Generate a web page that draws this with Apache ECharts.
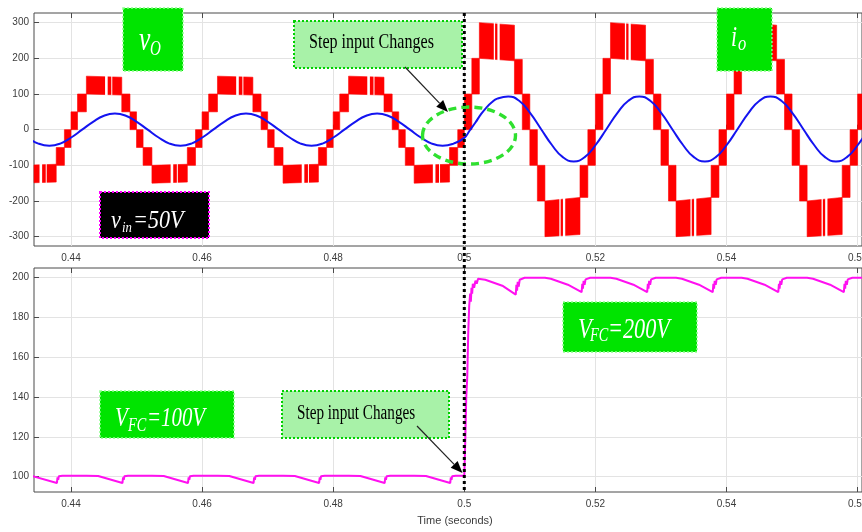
<!DOCTYPE html>
<html><head><meta charset="utf-8">
<script src="https://cdn.jsdelivr.net/npm/echarts@6/dist/echarts.min.js"></script>
<style>html,body{margin:0;padding:0;background:#fff;overflow:hidden}#c{width:862px;height:532px}</style>
</head><body><div id="c"></div>
<script>
// ---------- tick labels ----------
const xTicks = [0.44, 0.46, 0.48, 0.5, 0.52, 0.54, 0.56];
const voTicks = [-300, -200, -100, 0, 100, 200, 300];
const vfcTicks = [100, 120, 140, 160, 180, 200];
const xRange = [0.43436, 0.56067];
const voRange = [-326.2, 327.1];
const vfcRange = [92.3, 204.9];
const stepTime = 0.5;

// ---------- output voltage v_o : PWM bands between two adjacent levels ----------
const bandT0 = [0.43235,0.43775,0.439,
 0.44,0.441,0.44235,0.44775,0.449, 0.45,0.451,0.45235,0.45775,0.459,
 0.46,0.461,0.46235,0.46775,0.469, 0.47,0.471,0.47235,0.47775,0.479,
 0.48,0.481,0.48235,0.48775,0.489, 0.49,0.491,0.49235,0.49775,0.499,
 0.5,0.50115,0.5023,0.50765,0.50885, 0.51,0.51115,0.5123,0.51765,0.51885,
 0.52,0.52115,0.5223,0.52765,0.52885, 0.53,0.53115,0.5323,0.53765,0.53885,
 0.54,0.54115,0.5423,0.54765,0.54885, 0.55,0.55115,0.5523,0.55765,0.55885,
 0.56];
const bandT1 = [0.43775,0.439,0.44,
 0.441,0.44235,0.44775,0.449,0.45, 0.451,0.45235,0.45775,0.459,0.46,
 0.461,0.46235,0.46775,0.469,0.47, 0.471,0.47235,0.47775,0.479,0.48,
 0.481,0.48235,0.48775,0.489,0.49, 0.491,0.49235,0.49775,0.499,0.5,
 0.50115,0.5023,0.50765,0.50885,0.51, 0.51115,0.5123,0.51765,0.51885,0.52,
 0.52115,0.5223,0.52765,0.52885,0.53, 0.53115,0.5323,0.53765,0.53885,0.54,
 0.54115,0.5423,0.54765,0.54885,0.55, 0.55115,0.5523,0.55765,0.55885,0.56,
 0.56115];
const bandLo0 = [-150,-100,-50,
 0,50,100,50,0, -50,-100,-150,-100,-50,
 0,50,100,50,0, -50,-100,-150,-100,-50,
 0,50,100,50,0, -50,-100,-150,-100,-50,
 0,100,200,100,0, -100,-200,-300,-190,-100,
 0,100,200,100,0, -100,-200,-300,-190,-100,
 0,100,200,100,0, -100,-200,-300,-190,-100,
 0];
const bandHi0 = [-100,-50,0,
 50,100,150,100,50, 0,-50,-100,-50,0,
 50,100,150,100,50, 0,-50,-100,-50,0,
 50,100,150,100,50, 0,-50,-100,-50,0,
 100,200,300,197,100, 0,-100,-200,-100,0,
 100,200,300,197,100, 0,-100,-200,-100,0,
 100,200,300,197,100, 0,-100,-200,-100,0,
 100];
const bandLo1 = [-147,-100,-50,
 0,50,97,50,0, -50,-100,-147,-100,-50,
 0,50,97,50,0, -50,-100,-147,-100,-50,
 0,50,97,50,0, -50,-100,-147,-100,-50,
 0,100,193,100,0, -100,-200,-294,-190,-100,
 0,100,193,100,0, -100,-200,-294,-190,-100,
 0,100,193,100,0, -100,-200,-294,-190,-100,
 0];
const bandHi1 = [-97,-50,0,
 50,100,147,100,50, 0,-50,-97,-50,0,
 50,100,147,100,50, 0,-50,-97,-50,0,
 50,100,147,100,50, 0,-50,-97,-50,0,
 100,200,293,197,100, 0,-100,-190,-100,0,
 100,200,293,197,100, 0,-100,-190,-100,0,
 100,200,293,197,100, 0,-100,-190,-100,0,
 100];
// white PWM gaps visible inside the outer plateaus
const gapT0 = [0.4352,0.43615, 0.4452,0.44615, 0.4552,0.45615, 0.4652,0.46615, 0.4752,0.47615, 0.4852,0.48615, 0.4952,0.49615,
 0.5045,0.50505, 0.5145,0.51505, 0.5245,0.52505, 0.5345,0.53505, 0.5445,0.54505, 0.5545,0.55505];
const gapT1 = [0.4356,0.4363, 0.4456,0.4463, 0.4556,0.4563, 0.4656,0.4663, 0.4756,0.4763, 0.4856,0.4863, 0.4956,0.4963,
 0.5047,0.5054, 0.5147,0.5154, 0.5247,0.5254, 0.5347,0.5354, 0.5447,0.5454, 0.5547,0.5554];

// ---------- output current i_o ----------
const iT = [0.4317,0.43337,0.43503,0.4367,0.43837,0.44003,
 0.4417,0.44337,0.44503,0.4467,0.44837,0.45003,
 0.4517,0.45337,0.45503,0.4567,0.45837,0.46003,
 0.4617,0.46337,0.46503,0.4667,0.46837,0.47003,
 0.4717,0.47337,0.47503,0.4767,0.47837,0.48003,
 0.4817,0.48337,0.48503,0.4867,0.48837,0.49003,
 0.4917,0.49337,0.49503,0.4967,0.49837,0.5,
 0.5008,0.5017,0.5025,0.50337,0.5042,0.50503,0.5067,0.50837,0.51003,
 0.5117,0.51337,0.51503,0.5167,0.51837,0.52003,
 0.5217,0.52337,0.52503,0.5267,0.52837,0.53003,
 0.5317,0.53337,0.53503,0.5367,0.53837,0.54003,
 0.5417,0.54337,0.54503,0.5467,0.54837,0.55003,
 0.5517,0.55337,0.55503,0.5567,0.55837,0.56003,0.5617];
const iV = [0,-22,-39,-45,-39,-22,
 0,22,39,45,39,22,
 0,-22,-39,-45,-39,-22,
 0,22,39,45,39,22,
 0,-22,-39,-45,-39,-22,
 0,22,39,45,39,22,
 0,-22,-39,-45,-39,-23,
 -3,20,42,62,77,87,93,81,47,
 2,-43,-77,-89,-77,-43,
 2,47,81,93,81,47,
 2,-43,-77,-89,-77,-43,
 2,47,81,93,81,47,
 2,-43,-77,-89,-77,-43,2];

// ---------- flying capacitor voltage V_FC ----------
const fcT = [0.432,0.43415,0.43785,0.43795,0.43805,0.43815,0.4383,0.43845,0.4387,
 0.44235,0.44415,0.44785,0.44795,0.44805,0.44815,0.4483,0.44845,0.4487,
 0.45235,0.45415,0.45785,0.45795,0.45805,0.45815,0.4583,0.45845,0.4587,
 0.46235,0.46415,0.46785,0.46795,0.46805,0.46815,0.4683,0.46845,0.4687,
 0.47235,0.47415,0.47785,0.47795,0.47805,0.47815,0.4783,0.47845,0.4787,
 0.48235,0.48415,0.48785,0.48795,0.48805,0.48815,0.4883,0.48845,0.4887,
 0.49235,0.49415,0.49785,0.49795,0.49805,0.49815,0.4983,0.49845,0.4987,
 0.5,0.50015,0.5003,0.50045,0.5006,0.50075,0.5009,0.501,0.5011,0.5012,0.5013,0.5015,0.5017,0.5019,0.5021,
 0.5023,0.5032,0.5058,0.50785,0.50795,0.50805,0.50815,0.5083,0.50845,0.5087,0.5092,
 0.5123,0.5132,0.5158,0.5179,0.518,0.5181,0.5182,0.51835,0.5185,0.51875,0.5192,
 0.5223,0.5232,0.5258,0.5279,0.528,0.5281,0.5282,0.52835,0.5285,0.52875,0.5292,
 0.5323,0.5332,0.5358,0.5379,0.538,0.5381,0.5382,0.53835,0.5385,0.53875,0.5392,
 0.5423,0.5432,0.5458,0.5479,0.548,0.5481,0.5482,0.54835,0.5485,0.54875,0.5492,
 0.5523,0.5532,0.5558,0.5579,0.558,0.5581,0.5582,0.55835,0.5585,0.55875,0.5592,
 0.5615];
const fcV = [100.5,100.3,96.8,99.6,98.4,100.2,99.2,100.4,100.5,
 100.5,100.3,96.8,99.6,98.4,100.2,99.2,100.4,100.5,
 100.5,100.3,96.8,99.6,98.4,100.2,99.2,100.4,100.5,
 100.5,100.3,96.8,99.6,98.4,100.2,99.2,100.4,100.5,
 100.5,100.3,96.8,99.6,98.4,100.2,99.2,100.4,100.5,
 100.5,100.3,96.8,99.6,98.4,100.2,99.2,100.4,100.5,
 100.5,100.3,96.8,99.6,98.4,100.2,99.2,100.4,100.5,
 100.5,118,140,150,172,186,192,188,195,192,197,195,198.5,197,199.5,
 199.5,199,196,191.5,196.5,193.5,198,195.5,199,199.5,200,
 200,199.5,196.5,192.8,197,194.5,198.5,196.5,199.2,199.6,200,
 200,199.5,196.5,192.8,197,194.5,198.5,196.5,199.2,199.6,200,
 200,199.5,196.5,192.8,197,194.5,198.5,196.5,199.2,199.6,200,
 200,199.5,196.5,192.8,197,194.5,198.5,196.5,199.2,199.6,200,
 200,199.5,196.5,192.8,197,194.5,198.5,196.5,199.2,199.6,200,
 200];

// ---------- build ----------
const bandData = bandT0.map((t, i) => [t, bandT1[i], bandLo0[i], bandHi0[i], bandLo1[i], bandHi1[i]]);
const gapData = gapT0.map((t, i) => {
  const k = bandT0.findIndex((b, j) => t >= b && t < bandT1[j]);
  return [t, gapT1[i], Math.min(bandLo0[k], bandLo1[k]), Math.max(bandHi0[k], bandHi1[k])];
});
const iData = iT.map((t, i) => [t, iV[i]]);
const fcData = fcT.map((t, i) => [t, fcV[i]]);

function lerp(a, b, f) { return a + (b - a) * f; }
function renderBand(params, api) {
  const t0 = api.value(0), t1 = api.value(1);
  const c0 = Math.max(t0, xRange[0]), c1 = Math.min(t1, xRange[1]);
  if (c1 <= c0) return null;
  const f0 = (c0 - t0) / (t1 - t0), f1 = (c1 - t0) / (t1 - t0);
  const lo0 = api.value(2), hi0 = api.value(3), lo1 = api.value(4), hi1 = api.value(5);
  const pts = [
    api.coord([c0, lerp(lo0, lo1, f0)]),
    api.coord([c0, lerp(hi0, hi1, f0)]),
    api.coord([c1, lerp(hi0, hi1, f1)]),
    api.coord([c1, lerp(lo0, lo1, f1)])
  ];
  return { type: 'polygon', shape: { points: pts }, style: { fill: '#ff0000', stroke: '#ff0000', lineWidth: 0.6 } };
}
function renderGap(params, api) {
  const a = api.coord([api.value(0), api.value(3)]);
  const b = api.coord([api.value(1), api.value(2)]);
  return { type: 'rect', shape: { x: a[0], y: a[1] - 0.5, width: Math.max(b[0] - a[0], 0.8), height: b[1] - a[1] + 1 }, style: { fill: '#ffffff' } };
}

const axisFont = { fontFamily: 'Liberation Sans, Arial, sans-serif', fontSize: 10, color: '#3c3c3c' };
const frameColor = '#4a4a4a';
function xAx(grid, pos, labels) {
  return {
    type: 'value', gridIndex: grid, position: pos, min: xRange[0], max: xRange[1],
    axisLine: { show: false },
    axisTick: { show: true, inside: true, length: 5, customValues: xTicks, lineStyle: { color: frameColor } },
    axisLabel: Object.assign({ show: labels, customValues: xTicks, margin: 7 }, axisFont),
    splitLine: { show: labels, lineStyle: { color: '#e3e3e3', width: 1 } }
  };
}
function yAx(grid, range, ticks) {
  return {
    type: 'value', gridIndex: grid, min: range[0], max: range[1],
    axisLine: { show: false },
    axisTick: { show: true, inside: true, length: 5, customValues: ticks, lineStyle: { color: frameColor } },
    axisLabel: Object.assign({ customValues: ticks, margin: 5 }, axisFont),
    splitLine: { show: true, lineStyle: { color: '#e3e3e3', width: 1 } }
  };
}

const chart = echarts.init(document.getElementById('c'), null, { renderer: 'canvas' });
chart.setOption({
  animation: false,
  backgroundColor: '#ffffff',
  grid: [
    { left: 34, top: 13, width: 828, height: 233, show: true, borderColor: frameColor, borderWidth: 1, backgroundColor: 'transparent', containLabel: false, outerBoundsMode: 'none' },
    { left: 34, top: 268, width: 828, height: 224, show: true, borderColor: frameColor, borderWidth: 1, backgroundColor: 'transparent', containLabel: false, outerBoundsMode: 'none' }
  ],
  xAxis: [xAx(0, 'bottom', true), xAx(0, 'top', false), xAx(1, 'bottom', true), xAx(1, 'top', false)],
  yAxis: [yAx(0, voRange, voTicks), yAx(1, vfcRange, vfcTicks)],
  series: [
    { type: 'custom', name: 'vo', xAxisIndex: 0, yAxisIndex: 0, renderItem: renderBand, data: bandData,
      encode: { x: [0, 1], y: [2, 3, 4, 5] }, z: 2, silent: true },
    { type: 'custom', name: 'gaps', xAxisIndex: 0, yAxisIndex: 0, renderItem: renderGap, data: gapData,
      encode: { x: [0, 1], y: [2, 3] }, z: 3, silent: true },
    { type: 'line', name: 'io', xAxisIndex: 0, yAxisIndex: 0, data: iData, smooth: 0.5, showSymbol: false,
      lineStyle: { color: '#1414f0', width: 2 }, z: 4, silent: true },
    { type: 'line', name: 'VFC', xAxisIndex: 2, yAxisIndex: 1, data: fcData, showSymbol: false,
      lineStyle: { color: '#ff10f0', width: 2 }, z: 4, silent: true }
  ]
});

// ---------- annotations ----------
const serif = '"Liberation Serif", "Times New Roman", serif';
function box(x, y, w, h, fill, stroke, lw) {
  return { type: 'rect', shape: { x: x, y: y, width: w, height: h }, z: 50,
    style: { fill: fill, stroke: stroke, lineWidth: lw, lineDash: [2, 2] } };
}
function txt(x, y, s, size, color, italic, sx) {
  return { type: 'text', x: x, y: y, scaleX: sx, z: 60,
    style: { text: s, fill: color, font: (italic ? 'italic ' : '') + size + 'px ' + serif, align: 'left', verticalAlign: 'middle' } };
}
function arrow(x1, y1, x2, y2) {
  const dx = x2 - x1, dy = y2 - y1, L = Math.hypot(dx, dy), ux = dx / L, uy = dy / L;
  const hl = 12, hw = 4.8, bx = x2 - ux * hl, by = y2 - uy * hl;
  return [
    { type: 'line', z: 70, shape: { x1: x1, y1: y1, x2: bx, y2: by }, style: { stroke: '#222', lineWidth: 1.2 } },
    { type: 'polygon', z: 70, shape: { points: [[x2, y2], [bx - uy * hw, by + ux * hw], [bx + uy * hw, by - ux * hw]] }, style: { fill: '#000' } }
  ];
}
const sx = chart.convertToPixel({ xAxisIndex: 0 }, stepTime);
const green = '#00e400', greenEdge = '#8cff8c';
const gfx = [].concat(
  [box(123, 8, 60, 63, green, greenEdge, 1.5),
   txt(139, 41.5, 'v', 34, '#fff', true, 0.75),
   txt(150, 50, 'O', 20, '#fff', true, 0.75),
   box(100, 192, 109, 46, '#000', '#ff00ff', 2),
   txt(111, 221, 'v', 26, '#fff', true, 0.85),
   txt(122, 228, 'in', 15, '#fff', true, 0.85),
   txt(133, 221, '=50V', 26, '#fff', true, 0.85),
   box(294, 21, 168, 47, '#a8f2a8', '#00d000', 2),
   txt(309, 42.5, 'Step input Changes', 22, '#000', false, 0.73),
   { type: 'ellipse', z: 45, shape: { cx: 469, cy: 135.5, rx: 46.5, ry: 28.5 },
     style: { fill: 'none', stroke: '#2fe02f', lineWidth: 3.4, lineDash: [8, 5] } },
   box(717, 8, 55, 63, green, greenEdge, 1.5),
   txt(731, 38.5, 'i', 29, '#fff', true, 0.75),
   txt(738, 44, 'o', 22, '#fff', true, 0.75),
   box(100, 391, 134, 47, green, greenEdge, 1.5),
   txt(115, 419, 'V', 28, '#fff', true, 0.75),
   txt(128, 426, 'FC', 19, '#fff', true, 0.75),
   txt(147, 419, '=100V', 28, '#fff', true, 0.745),
   box(563, 302, 134, 50, green, greenEdge, 1.5),
   txt(578, 330, 'V', 30, '#fff', true, 0.75),
   txt(590, 336, 'FC', 19, '#fff', true, 0.75),
   txt(608, 330, '=200V', 30, '#fff', true, 0.74),
   box(282, 391, 167, 47, '#a8f2a8', '#00d000', 2),
   txt(297, 413.5, 'Step input Changes', 20, '#000', false, 0.76),
   { type: 'line', z: 80, shape: { x1: sx, y1: 13, x2: sx, y2: 492 }, style: { stroke: '#000', lineWidth: 3, lineDash: [3, 3] } },
   { type: 'text', z: 60, x: 455, y: 521, style: { text: 'Time (seconds)', fill: '#3c3c3c', font: '11px "Liberation Sans", Arial, sans-serif', align: 'center', verticalAlign: 'middle' } }
  ],
  arrow(405, 67, 448, 112),
  arrow(417, 426, 462.5, 473)
);
chart.setOption({ graphic: { elements: gfx } });
</script>
</body></html>
